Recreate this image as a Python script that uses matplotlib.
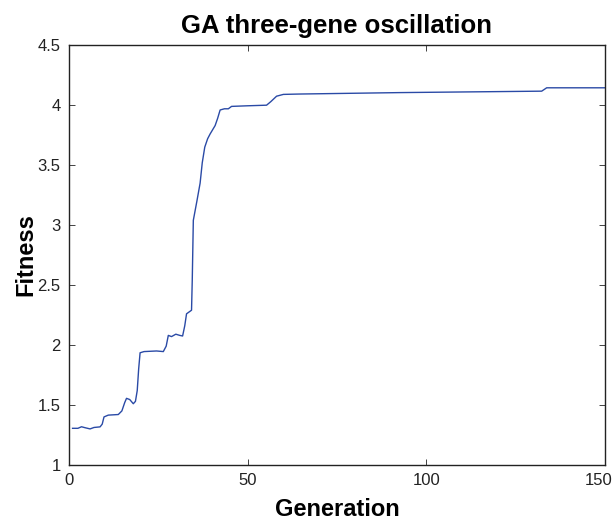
import numpy as np
import matplotlib.pyplot as plt
import matplotlib.transforms as mtransforms

plt.rcParams['font.family'] = ['Liberation Sans', 'DejaVu Sans']

# best fitness per generation
gen = [1, 2.5, 3.5, 4.5, 5.9, 7, 8.7, 9.3, 9.8, 11, 13.8, 14.8, 15.6, 16.1, 17, 18,
       18.6, 19.1, 19.5, 19.9, 21, 24.5, 26.4, 27.2, 27.8, 28.7, 29.9, 31, 31.8,
       32.4, 32.9, 34.3, 34.5, 34.8, 35.8, 36.7, 37.3, 38.0, 38.8, 39.5, 40.9,
       41.6, 42.3, 43.5, 44.6, 45.5, 50, 55.3, 56.5, 58.1, 60, 64.4, 92.6, 132.3,
       133.2, 133.7, 150]
fitness = [1.305, 1.305, 1.318, 1.31, 1.30, 1.312, 1.317, 1.34, 1.40, 1.415, 1.42,
           1.45, 1.52, 1.555, 1.545, 1.51, 1.53, 1.62, 1.80, 1.935, 1.945, 1.95,
           1.945, 1.99, 2.08, 2.07, 2.09, 2.08, 2.075, 2.16, 2.26, 2.29, 2.54, 3.04,
           3.2, 3.35, 3.52, 3.65, 3.72, 3.76, 3.83, 3.89, 3.96, 3.97, 3.97, 3.99,
           3.995, 4.00, 4.03, 4.075, 4.09, 4.093, 4.105, 4.117, 4.135, 4.145, 4.145]

fig = plt.figure(figsize=(6.16, 5.2), dpi=100)
ax = fig.add_axes([0.112, 0.106, 0.870, 0.807])
ax.plot(gen, fitness, color='#2a4aa6', linewidth=1.0)

ax.set_xlim(0, 150)
ax.set_ylim(1, 4.5)
ax.set_xticks([0, 50, 100, 150])
ax.set_yticks([1, 1.5, 2, 2.5, 3, 3.5, 4, 4.5])
ax.set_yticklabels(['1', '1.5', '2', '2.5', '3', '3.5', '4', '4.5'])
ax.tick_params(direction='in', top=True, right=True, labelsize=12, length=4,
               width=0.6, pad=6, colors='#222222')
for s in ax.spines.values():
    s.set_linewidth(1.0)
    s.set_color('#222222')

# keep the last x label inside the figure
last = ax.get_xticklabels()[-1]
last.set_transform(last.get_transform() +
                   mtransforms.ScaledTranslation(-6 / 100, 0, fig.dpi_scale_trans))

ax.set_xlabel('Generation', fontsize=17, fontweight='bold', labelpad=7)
ax.set_ylabel('Fitness', fontsize=17, fontweight='bold', labelpad=0)
ax.set_title('GA three-gene oscillation', fontsize=18.5, fontweight='bold', pad=9)

fig.savefig('out.png', dpi=100)
